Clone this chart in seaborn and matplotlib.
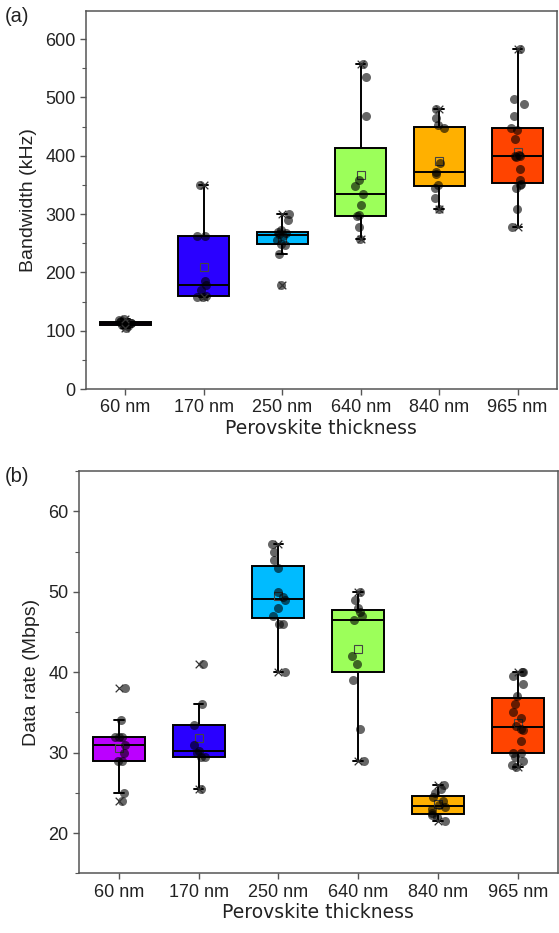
import numpy as np
import pandas as pd
import matplotlib
matplotlib.use("Agg")
import matplotlib.pyplot as plt
import seaborn as sns
from matplotlib.ticker import MultipleLocator

# categories and colours
thickness = ["60 nm", "170 nm", "250 nm", "640 nm", "840 nm", "965 nm"]
box_colors = ["#BB00FF", "#2A00FF", "#00BBFF", "#9CFF5A", "#FFB000", "#FF4400"]

# (a) bandwidth in kHz
bw_60 = [105, 108, 110, 112, 113, 114, 115, 116, 118, 120]
bw_170 = [158, 158, 160, 170, 178, 185, 262, 262, 350]
bw_250 = [178, 232, 247, 249, 255, 263, 267, 266, 269, 272, 290, 300]
bw_640 = [558, 535, 468, 358, 348, 334, 316, 298, 296, 278, 258]
bw_840 = [480, 465, 452, 448, 388, 372, 368, 350, 345, 328, 308]
bw_965 = [278, 308, 345, 350, 352, 358, 378, 398, 399, 400, 402, 428, 445, 448,
          468, 488, 498, 584]

# (b) data rate in Mbps
dr_60 = [38, 34, 32, 32, 32, 31, 30, 29, 29, 25, 24]
dr_170 = [25.5, 29.5, 29.5, 30, 30.2, 31, 33.5, 36, 41]
dr_250 = [40, 46, 46, 47, 48, 49, 49.3, 50, 53, 54, 55, 56]
dr_640 = [29, 33, 39, 41, 42, 46.5, 47, 47.5, 48, 49, 50]
dr_840 = [21.5, 22, 22.2, 22.5, 23, 23.2, 23.5, 24, 24.5, 25, 25.5, 26]
dr_965 = [28.2, 28.5, 29, 29.4, 30, 30, 31.4, 32.8, 33, 33.3, 34.3, 35, 36, 37,
          38.5, 39.5, 40, 40]

bandwidth = [bw_60, bw_170, bw_250, bw_640, bw_840, bw_965]
data_rate = [dr_60, dr_170, dr_250, dr_640, dr_840, dr_965]

sns.set_style("ticks")
plt.rcParams["font.family"] = ["Liberation Sans", "DejaVu Sans"]
np.random.seed(3)


def long_form(groups):
    rows = []
    for name, vals in zip(thickness, groups):
        for v in vals:
            rows.append((name, v))
    return pd.DataFrame(rows, columns=["thickness", "value"])


def draw_panel(ax, groups, ylabel, ylim, major, minor, tag):
    df = long_form(groups)
    sns.boxplot(data=df, x="thickness", y="value", hue="thickness",
                order=thickness, hue_order=thickness, palette=box_colors,
                saturation=1, width=0.65, showfliers=False, legend=False,
                showmeans=True, linecolor="black", linewidth=1.4,
                capwidths=0.12,
                meanprops=dict(marker="s", markerfacecolor="none",
                               markeredgecolor="#444444", markersize=6,
                               markeredgewidth=0.8),
                ax=ax)
    sns.stripplot(data=df, x="thickness", y="value", order=thickness,
                  color="black", alpha=0.6, size=6.5, jitter=0.09,
                  linewidth=0, ax=ax)
    # min / max crosses
    ext = df.groupby("thickness")["value"].agg(["min", "max"]).reindex(thickness)
    ext = ext.reset_index().melt(id_vars="thickness", value_name="value")
    sns.stripplot(data=ext, x="thickness", y="value", order=thickness,
                  marker="x", color="#333333", size=5.5, linewidth=0.9,
                  jitter=False, ax=ax)

    ax.set_xlim(-0.5, 5.5)
    ax.set_ylim(*ylim)
    ax.yaxis.set_major_locator(MultipleLocator(major))
    ax.yaxis.set_minor_locator(MultipleLocator(minor))
    ax.set_ylabel(ylabel, fontsize=14, color="#222222", labelpad=6)
    ax.set_xlabel("Perovskite thickness", fontsize=13.5, color="#222222",
                  family="DejaVu Sans", labelpad=2)
    ax.tick_params(axis="both", which="major", direction="out", length=4.5,
                   width=1, color="#555555", labelsize=13, labelcolor="#222222",
                   pad=3)
    ax.tick_params(axis="y", which="minor", direction="out", length=3,
                   width=0.8, color="#555555")
    for side in ["top", "right", "left", "bottom"]:
        ax.spines[side].set_visible(True)
        ax.spines[side].set_color("#555555")
        ax.spines[side].set_linewidth(1.1)
    ax.figure.text(0.008, ax.get_position().y1 + 0.004, tag, fontsize=14.5,
                   color="#222222", va="top")


fig = plt.figure(figsize=(5.59, 9.33), dpi=100)
ax_a = fig.add_axes([0.154, 0.583, 0.842, 0.405])
ax_b = fig.add_axes([0.141, 0.064, 0.857, 0.431])

draw_panel(ax_a, bandwidth, "Bandwidth (kHz)", (0, 648), 100, 50, "(a)")
draw_panel(ax_b, data_rate, "Data rate (Mbps)", (15, 65), 10, 5, "(b)")

fig.savefig("out.png", dpi=100)
